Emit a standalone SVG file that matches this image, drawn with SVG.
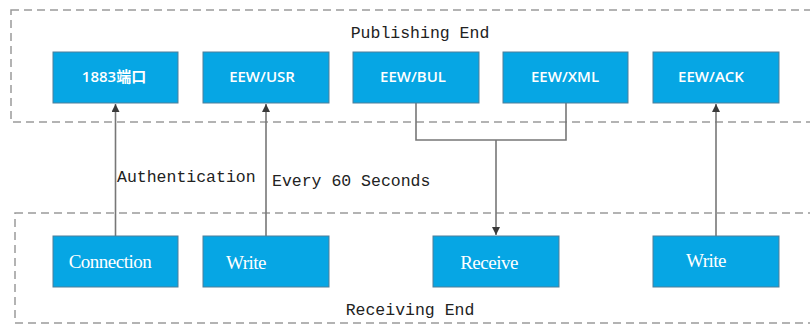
<svg xmlns="http://www.w3.org/2000/svg" width="810" height="326" viewBox="0 0 810 326">
<defs>
<style>
.zone{fill:none;stroke:#9a9a9a;stroke-width:1.5;stroke-dasharray:8 5}
.node{fill:#06a6e4;stroke:#4f7f99;stroke-width:1}
.top{font-family:"Open Sans","Liberation Sans","Noto Sans CJK SC",sans-serif;font-weight:600;font-size:15px;fill:#fff;text-anchor:middle}
.bot{font-family:"Liberation Serif",serif;font-size:19px;fill:#fff;text-anchor:middle;letter-spacing:-0.5px}
.lbl{font-family:"Liberation Mono",monospace;font-size:16.5px;fill:#222}
.wire{fill:none;stroke:#777;stroke-width:1.6}
</style>
<marker id="arr" viewBox="0 0 10 10" refX="10" refY="5" markerWidth="8" markerHeight="8" orient="auto" markerUnits="userSpaceOnUse">
<path d="M0,0 L10,5 L0,10 z" fill="#3a3a3a"/>
</marker>
</defs>
<rect x="0" y="0" width="810" height="326" fill="#fff"/>
<g id="publishing-end">
<rect class="zone" x="11" y="10" width="820" height="112"/>
<text class="lbl" x="420" y="38" text-anchor="middle">Publishing End</text>
</g>
<g id="receiving-end">
<rect class="zone" x="15" y="213" width="820" height="110"/>
<text class="lbl" x="410" y="315" text-anchor="middle">Receiving End</text>
</g>
<g id="connectors">
<line class="wire" x1="115.5" y1="236" x2="115.5" y2="104" marker-end="url(#arr)"/>
<line class="wire" x1="266" y1="236" x2="266" y2="104" marker-end="url(#arr)"/>
<polyline class="wire" points="416,103 416,140 566,140 566,103"/>
<line class="wire" x1="496" y1="140" x2="496" y2="235" marker-end="url(#arr)"/>
<line class="wire" x1="716" y1="236" x2="716" y2="104" marker-end="url(#arr)"/>
<text class="lbl" x="117" y="182">Authentication</text>
<text class="lbl" x="272" y="186">Every 60 Seconds</text>
</g>
<g id="n-1883">
<rect class="node" x="53" y="52" width="125" height="51"/>
<text class="top" x="114" y="82">1883端口</text>
</g>
<g id="n-usr">
<rect class="node" x="203" y="52" width="126" height="51"/>
<text class="top" x="262" y="82">EEW/USR</text>
</g>
<g id="n-bul">
<rect class="node" x="353" y="52" width="126" height="51"/>
<text class="top" x="413" y="82">EEW/BUL</text>
</g>
<g id="n-xml">
<rect class="node" x="503" y="52" width="125" height="51"/>
<text class="top" x="565" y="82">EEW/XML</text>
</g>
<g id="n-ack">
<rect class="node" x="653" y="52" width="126" height="51"/>
<text class="top" x="711" y="82">EEW/ACK</text>
</g>
<g id="n-connection">
<rect class="node" x="53" y="236" width="125" height="51"/>
<text class="bot" x="110" y="268">Connection</text>
</g>
<g id="n-write1">
<rect class="node" x="203" y="236" width="126" height="51"/>
<text class="bot" x="246" y="269">Write</text>
</g>
<g id="n-receive">
<rect class="node" x="433" y="236" width="126" height="51"/>
<text class="bot" x="489" y="269">Receive</text>
</g>
<g id="n-write2">
<rect class="node" x="653" y="236" width="126" height="51"/>
<text class="bot" x="706" y="267">Write</text>
</g>
</svg>
